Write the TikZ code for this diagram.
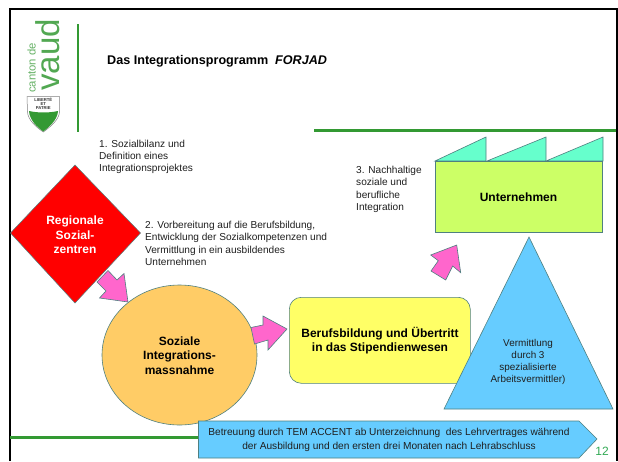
\documentclass[tikz,border=0pt]{standalone}
\usepackage{fontspec}
\setmainfont{Liberation Sans}
\usetikzlibrary{shapes.geometric}
\definecolor{vdgreen}{HTML}{339933}
\definecolor{edge}{HTML}{4F8080}
\definecolor{pinkfill}{HTML}{FF66CC}
\definecolor{bluefill}{HTML}{66CCFF}
\definecolor{orangefill}{HTML}{FFCC66}
\definecolor{yellowfill}{HTML}{FFFF66}
\definecolor{mintfill}{HTML}{66FFCC}
\definecolor{limefill}{HTML}{CCFF66}
\definecolor{pagegreen}{HTML}{33AA55}
\tikzset{
  shapeline/.style={draw=edge,line width=0.6pt,line join=miter},
  pinkarrow/.style={shapeline,fill=pinkfill},
  greenrule/.style={draw=vdgreen,line width=2.6pt},
  note/.style={font=\fontsize{10.1}{12.3}\selectfont,align=left,anchor=north west,inner sep=0pt,text=black!88},
  head/.style={font=\fontsize{12}{14.6}\selectfont\bfseries,align=center,inner sep=0pt},
}
\begin{document}
\begin{tikzpicture}[x=1pt,y=-1pt]
\useasboundingbox (0,0) rectangle (618,461);
\fill[white] (0,0) rectangle (618,461);
% frame
\draw[black,line width=2pt] (10,461) -- (10,9) -- (617,9) -- (617,461);
% logo
\node[rotate=90,anchor=south west,inner sep=0pt,text=vdgreen!75!white,font=\fontsize{11.3}{12}\selectfont] (canton) at (36,93) {canton de};
\node[rotate=90,anchor=south west,inner sep=0pt,text=vdgreen!85!white,font=\fontsize{33}{34}\selectfont] (vaud) at (60.5,91) {vaud};
\draw[gray,line width=0.5pt,fill=white] (27,96.5) -- (59.5,96.5) -- (59.5,112) .. controls (59,120) and (50,127) .. (43.3,132) .. controls (36,127) and (28,120) .. (27.5,112) -- cycle;
\fill[vdgreen] (29,111) .. controls (38,113) and (49,113) .. (58,111) .. controls (57.5,120) and (49,127) .. (43.3,131.5) .. controls (37,127) and (29.5,120) .. (29,111) -- cycle;
\node[font=\fontsize{4.2}{3.9}\selectfont\bfseries,align=center,inner sep=0pt,text=black!80] (devise) at (43.3,104) {LIBERTÉ\\ET\\PATRIE};
% rules
\draw[greenrule] (78,24) -- (78,132);
\draw[greenrule] (314,130.3) -- (616,130.3);
\draw[greenrule] (10,437.3) -- (200,437.3);
% title
\node[anchor=west,inner sep=0pt,font=\fontsize{12.6}{14}\selectfont\bfseries] (title) at (107,61.5) {Das Integrationsprogramm\ \ \textit{FORJAD}};
% notes
\node[note] (n1) at (99,139.5) {1. Sozialbilanz und\\Definition eines\\Integrationsprojektes};
\node[note] (n2) at (145,221) {2. Vorbereitung auf die Berufsbildung,\\Entwicklung der Sozialkompetenzen und\\Vermittlung in ein ausbildendes\\Unternehmen};
\node[note] (n3) at (356,166) {3. Nachhaltige\\soziale und\\berufliche\\Integration};
% diamond
\fill[red] (75,165) -- (140.5,233) -- (75,303) -- (10.5,233) -- cycle;
\draw[edge,line width=0.5pt] (75,165) -- (140.5,233) -- (75,303) -- (10.5,233) -- cycle;
\node[head,text=white] (rsz) at (75,235) {Regionale\\Sozial-\\zentren};
% pink arrows
\draw[pinkarrow] (108,270.5) -- (117,280) -- (124,273.5) -- (128,302) -- (99.5,298) -- (106,291) -- (97,282) -- cycle;
% ellipse
\node[shapeline,fill=orangefill,ellipse,minimum width=155pt,minimum height=140pt,inner sep=0pt] (sim) at (179.5,355) {};
\node[head] (simtxt) at (179.5,355.5) {Soziale\\Integrations-\\massnahme};
\draw[pinkarrow] (251,327.5) -- (263,325) -- (263,316) -- (287,329) -- (268,350) -- (268,340) -- (254.5,344) -- cycle;
% yellow box
\node[shapeline,fill=yellowfill,rounded corners=12pt,minimum width=181pt,minimum height=86pt,inner sep=0pt,anchor=north west] (bb) at (289,297) {};
\node[head] (bbtxt) at (380,340.5) {Berufsbildung und Übertritt\\in das Stipendienwesen};
% factory
\draw[shapeline,fill=mintfill] (435,161) -- (486,137) -- (486,161) -- cycle;
\draw[shapeline,fill=mintfill] (487,161) -- (546,137) -- (546,161) -- cycle;
\draw[shapeline,fill=mintfill] (546,161) -- (603,137) -- (603,161) -- cycle;
\node[shapeline,fill=limefill,minimum width=167.5pt,minimum height=71pt,inner sep=0pt,anchor=north west] (firm) at (434.5,161) {};
\node[head] (firmtxt) at (518.5,197) {Unternehmen};
\draw[pinkarrow] (430.7,255) -- (456.7,245) -- (460.7,272.7) -- (452.7,266) -- (445.7,280) -- (431,271) -- (438.3,260.7) -- cycle;
% triangle
\draw[shapeline,fill=bluefill] (529,237) -- (613,409) -- (444,409) -- cycle;
\node[font=\fontsize{9.9}{12.2}\selectfont,align=center,inner sep=0pt,text=black!88] (verm) at (528,362) {Vermittlung\\durch 3\\spezialisierte\\Arbeitsvermittler)};
% bottom arrow
\draw[shapeline,fill=bluefill] (198.5,421) -- (579,421) -- (597,439) -- (579,458) -- (198.5,458) -- cycle;
\node[font=\fontsize{10.15}{13.7}\selectfont,align=center,inner sep=0pt,text=black!88] (tem) at (389,440) {Betreuung durch TEM ACCENT ab Unterzeichnung\ \ des Lehrvertrages während\\der Ausbildung und den ersten drei Monaten nach Lehrabschluss};
\node[font=\fontsize{12}{13}\selectfont,text=pagegreen,inner sep=0pt] (pg) at (602,451) {12};
\end{tikzpicture}
\end{document}
